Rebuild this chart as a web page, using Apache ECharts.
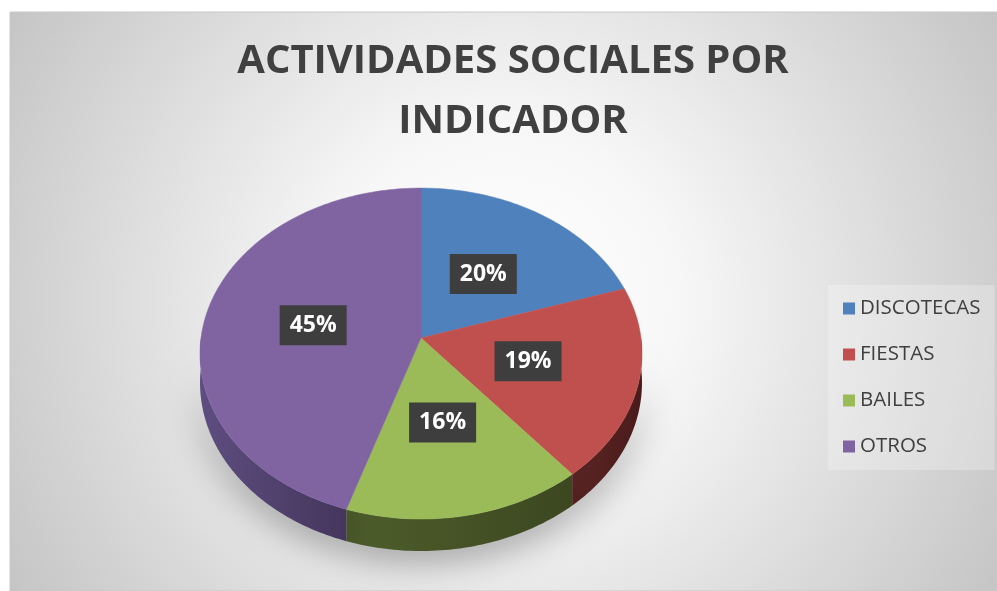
<!DOCTYPE html>
<html>
<head>
<meta charset="utf-8">
<script src="https://cdn.jsdelivr.net/npm/echarts@6/dist/echarts.min.js"></script>
<style>
  html, body { margin: 0; padding: 0; background: #fff; }
  #main { width: 997px; height: 591px; }
</style>
</head>
<body>
<div id="main"></div>
<script>
const categories = ['DISCOTECAS', 'FIESTAS', 'BAILES', 'OTROS'];
const percents = [20, 19, 16, 45];
const topColors = ['#4f81bd', '#c0504d', '#9bbb59', '#8064a2'];
const sideColors = [['#3a5f8c', '#2c4a6e'], ['#5c2424', '#4a1b1b'], ['#4e5e2b', '#3c4720'], ['#5e4d80', '#44365c']];

// geometria del pastel 3D (vista en perspectiva)
const CX = 421, CY = 338, RX = 220, RY = 164, K = 0.094, DEPTH = 29;
const total = percents.reduce((a, b) => a + b, 0);

function project (deg, r, drop) {
  const t = deg * Math.PI / 180;
  const u = r * Math.sin(t);
  const v = -r * Math.cos(t);
  const w = 1 - K * v;
  return [CX + RX * u / w, CY + RY * v / w + (drop ? DEPTH / w : 0)];
}

function renderSlice (params, api) {
  const idx = params.seriesIndex;
  const start = api.value(0) / total * 360;
  const end = (api.value(0) + api.value(1)) / total * 360;
  const children = [];

  // cara lateral visible (mitad delantera)
  const s0 = Math.max(start, 90);
  const s1 = Math.min(end, 270);
  if (s1 > s0) {
    const up = [];
    const down = [];
    for (let a = s0; a < s1; a += 1) {
      up.push(project(a, 1, false));
      down.push(project(a, 1, true));
    }
    up.push(project(s1, 1, false));
    down.push(project(s1, 1, true));
    children.push({
      type: 'polygon',
      z2: 1,
      shape: { points: up.concat(down.reverse()) },
      style: {
        fill: new echarts.graphic.LinearGradient(0, 0, 1, 0, [
          { offset: 0, color: sideColors[idx][0] },
          { offset: 1, color: sideColors[idx][1] }
        ]),
        shadowBlur: 36,
        shadowColor: 'rgba(0,0,0,0.38)',
        shadowOffsetY: 8
      }
    });
  }

  // cara superior
  const top = [[CX, CY]];
  for (let a = start; a < end; a += 1) top.push(project(a, 1, false));
  top.push(project(end, 1, false));
  children.push({
    type: 'polygon',
    z2: 10,
    shape: { points: top },
    style: { fill: topColors[idx], stroke: topColors[idx], lineWidth: 0.5 }
  });

  // etiqueta de porcentaje
  const pos = project((start + end) / 2, 0.5, false);
  children.push({
    type: 'text',
    z2: 20,
    x: pos[0],
    y: pos[1],
    style: {
      text: api.value(1) + '%',
      align: 'center',
      verticalAlign: 'middle',
      fill: '#fff',
      font: 'bold 23px "Open Sans"',
      backgroundColor: '#3e3e3e',
      padding: [9, 10, 8, 10],
      boxShadowBlur: 6,
      boxShadowColor: 'rgba(0,0,0,0.45)',
      boxShadowOffsetX: 3,
      boxShadowOffsetY: 3
    }
  });
  return { type: 'group', children: children };
}

const myChart = echarts.init(document.getElementById('main'));

let acc = 0;
const series = categories.map((name, i) => {
  const s = {
    name: name,
    type: 'custom',
    coordinateSystem: 'none',
    itemStyle: { color: topColors[i] },
    renderItem: renderSlice,
    data: [[acc, percents[i]]]
  };
  acc += percents[i];
  return s;
});

const option = {
  animation: false,
  graphic: [{
    type: 'rect',
    silent: true,
    z: -10,
    shape: { x: 10, y: 12, width: 987, height: 579 },
    style: {
      fill: new echarts.graphic.RadialGradient(0.5, 0.5, 1.0, [
        { offset: 0, color: '#ffffff' },
        { offset: 0.3, color: '#f7f7f7' },
        { offset: 1, color: '#c4c4c4' }
      ]),
      stroke: '#c8c8c8',
      lineWidth: 1
    }
  }],
  title: {
    text: 'ACTIVIDADES SOCIALES POR\nINDICADOR',
    left: 508,
    textAlign: 'center',
    top: 27,
    textStyle: {
      fontFamily: 'Open Sans',
      fontWeight: 'bold',
      fontSize: 40,
      lineHeight: 60,
      color: '#404040'
    }
  },
  legend: {
    orient: 'vertical',
    left: 828,
    top: 285,
    icon: 'rect',
    itemWidth: 12,
    itemHeight: 12,
    itemGap: 25,
    padding: [13, 14, 13, 15],
    backgroundColor: 'rgba(255,255,255,0.25)',
    textStyle: { fontFamily: 'Open Sans', fontSize: 20.5, color: '#404040' },
    data: categories
  },
  series: series
};
myChart.setOption(option);
</script>
</body>
</html>
